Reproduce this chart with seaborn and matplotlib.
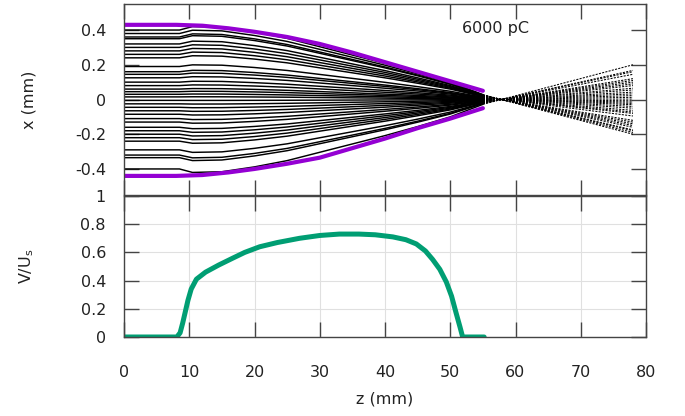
import numpy as np
import pandas as pd
import matplotlib
matplotlib.use("Agg")
import matplotlib.pyplot as plt
import matplotlib.ticker as mticker
import seaborn as sns

# ---------------- data ----------------
# initial transverse positions of the tracked particles (mm)
x0 = [0.40, 0.38, 0.36, 0.35, 0.32, 0.30, 0.28, 0.26, 0.24, 0.19, 0.16, 0.145,
      0.125, 0.10, 0.08, 0.06, 0.045, 0.03, 0.015, -0.005, -0.025, -0.045,
      -0.065, -0.085, -0.11, -0.13, -0.16, -0.18, -0.20, -0.22, -0.24, -0.29,
      -0.32, -0.335, -0.40]
# relative focusing profile along z (solid part)
prof_z = [0, 8.5, 10.5, 15, 20, 25, 30, 35, 40, 45, 50, 55]
prof_s = [1.0, 1.0, 1.05, 1.04, 0.97, 0.88, 0.76, 0.64, 0.52, 0.39, 0.25, 0.07]
# drift after the lens (dashed part)
drift_z = [55, 78]
drift_s = [0.07, -0.50]

# beam envelope (purple)
env_z = [0, 8, 12, 16, 20, 25, 30, 35, 40, 45, 50, 55]
env_top = [0.43, 0.43, 0.425, 0.41, 0.39, 0.36, 0.32, 0.27, 0.215, 0.16, 0.105, 0.05]
env_bot = [-0.44, -0.44, -0.435, -0.42, -0.40, -0.37, -0.335, -0.28, -0.225, -0.165, -0.11, -0.05]

# V/Us curve (green)
v_z = [0, 8.1, 8.6, 9.0, 9.4, 9.8, 10.3, 11.1, 12.5, 14.5, 16.7, 18.5, 20.8, 23.5,
       26.9, 30, 33, 36, 38.5, 41.2, 43.2, 44.8, 46.2, 47.3, 48.4, 49.4, 50.2,
       50.9, 51.5, 51.9, 55.2]
v_val = [0, 0, 0.03, 0.10, 0.18, 0.26, 0.34, 0.41, 0.46, 0.51, 0.56, 0.60, 0.64,
         0.67, 0.70, 0.72, 0.73, 0.73, 0.725, 0.71, 0.69, 0.66, 0.61, 0.55, 0.48,
         0.39, 0.29, 0.17, 0.07, 0.0, 0.0]

charge_label = "6000 pC"
top_yticks = [-0.4, -0.2, 0, 0.2, 0.4]
bot_yticks = [0, 0.2, 0.4, 0.6, 0.8, 1.0]
xticks = [0, 10, 20, 30, 40, 50, 60, 70, 80]

# ---------------- build tables ----------------
rows = []
for pid, xi in enumerate(x0):
    for z, s in zip(prof_z, prof_s):
        rows.append((pid, z, xi * s))
traj = pd.DataFrame(rows, columns=["pid", "z", "x"])
rows = []
for pid, xi in enumerate(x0):
    for z, s in zip(drift_z, drift_s):
        rows.append((pid, z, xi * s))
drift = pd.DataFrame(rows, columns=["pid", "z", "x"])

# ---------------- figure ----------------
sns.set_theme(style="white")
plt.rcParams["font.family"] = ["DejaVu Sans"]
plt.rcParams["axes.unicode_minus"] = False
FS = 11.5
TXT = "#222222"
EDGE = "#444444"

W, H = 685, 416
fig = plt.figure(figsize=(W / 100, H / 100), dpi=100)
L, R = 124, 646
ax1 = fig.add_axes([L / W, 1 - 195 / H, (R - L) / W, (195 - 4) / H])
ax2 = fig.add_axes([L / W, 1 - 337 / H, (R - L) / W, (337 - 196) / H])

# top panel: trajectories
sns.lineplot(data=traj, x="z", y="x", units="pid", estimator=None, color="black",
             lw=1.05, ax=ax1, legend=False)
sns.lineplot(data=drift, x="z", y="x", units="pid", estimator=None, color="black",
             lw=0.75, linestyle=(0, (2.0, 1.2)), ax=ax1, legend=False)
sns.lineplot(x=env_z, y=env_top, color="#9400d3", lw=3.0, ax=ax1)
sns.lineplot(x=env_z, y=env_bot, color="#9400d3", lw=3.0, ax=ax1)
ax1.text(51.8, 0.41, charge_label, fontsize=FS, color=TXT, va="center", ha="left")

# bottom panel: V/Us
ax2.grid(True, color="#e0e0e0", lw=0.8)
ax2.set_axisbelow(True)
sns.lineplot(x=v_z, y=v_val, color="#009e73", lw=3.6, ax=ax2,
             solid_capstyle="round", solid_joinstyle="round")

fmt = mticker.FuncFormatter(lambda v, p: f"{v:g}")
for ax in (ax1, ax2):
    ax.set_xlim(0, 80)
    ax.set_xticks(xticks)
    ax.tick_params(direction="in", length=11, width=1, top=True, right=True,
                   bottom=True, left=True, color=EDGE, labelcolor=TXT,
                   labelsize=FS)
    ax.tick_params(axis="y", pad=13)
    ax.yaxis.set_major_formatter(fmt)
    ax.xaxis.set_major_formatter(fmt)
    for sp in ax.spines.values():
        sp.set_color(EDGE)
        sp.set_linewidth(1.0)
    ax.set_xlabel("")
    ax.set_ylabel("")

ax1.set_ylim(-0.55, 0.55)
ax1.set_yticks(top_yticks)
ax1.tick_params(axis="x", labelbottom=False)

ax2.set_ylim(0, 1)
ax2.set_yticks(bot_yticks)
ax2.tick_params(axis="x", pad=20)

ax1.set_ylabel("x (mm)", fontsize=FS, color=TXT)
ax1.yaxis.set_label_coords(-0.168, 0.5)
ax2.set_ylabel(r"V/U$_\mathrm{s}$", fontsize=FS, color=TXT)
ax2.yaxis.set_label_coords(-0.168, 0.5)
ax2.set_xlabel("z (mm)", fontsize=FS, color=TXT)
ax2.xaxis.set_label_coords(0.5, -0.39)

fig.savefig("out.png", dpi=100)
